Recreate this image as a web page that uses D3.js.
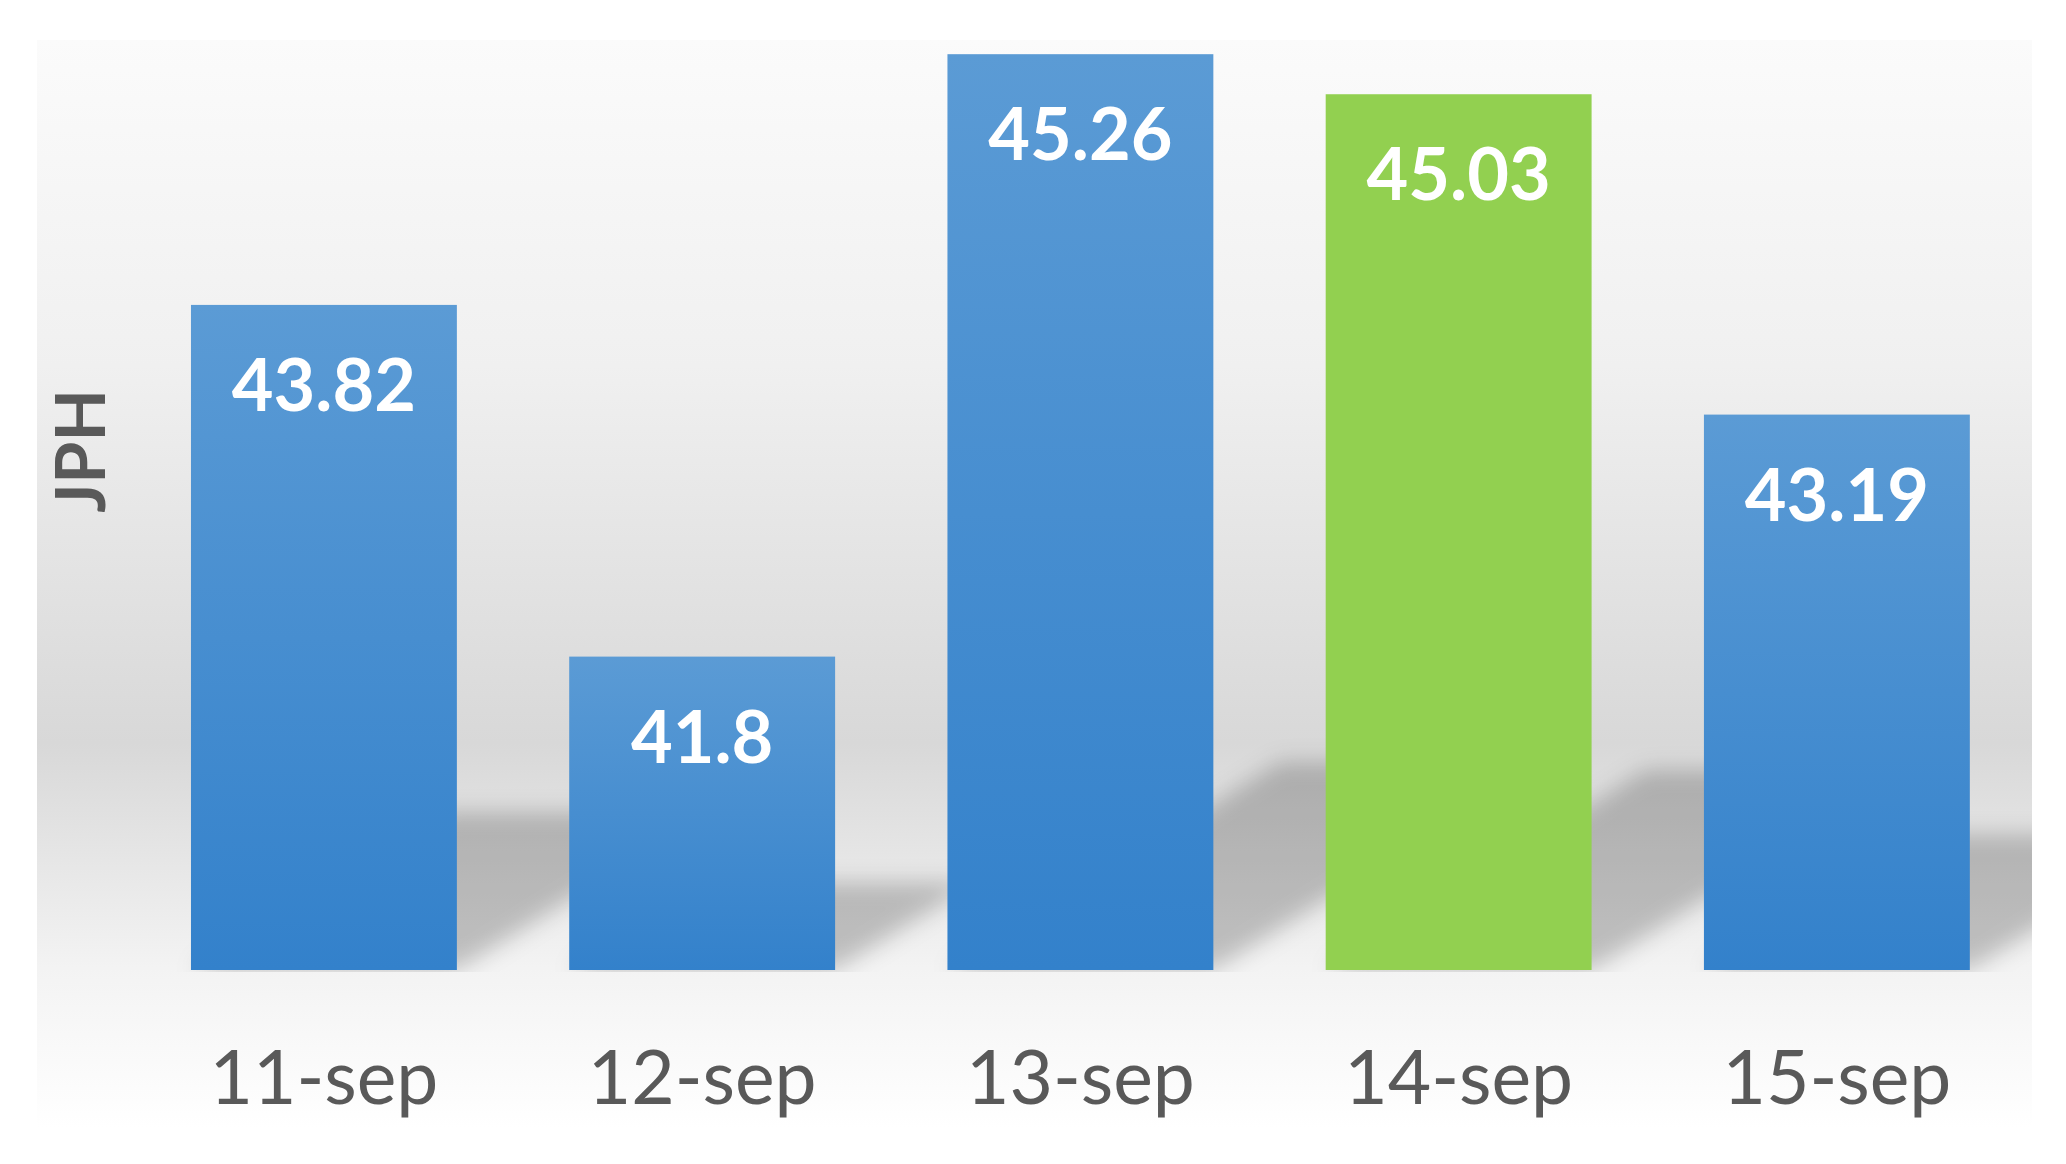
<!DOCTYPE html>
<html lang="en">
<head>
  <meta charset="UTF-8">
  <title>JPH</title>
  <style>
    body { margin: 0; background: #fff; }
    svg { display: block; }
  </style>
</head>
<body>
  <script src="https://d3js.org/d3.v7.min.js"></script>
  <script>
    'use strict';

    // data
    const days = ['11-sep', '12-sep', '13-sep', '14-sep', '15-sep'];
    const jph = [43.82, 41.8, 45.26, 45.03, 43.19];
    const highlightDay = '14-sep';
    const axisLabel = 'JPH';

    const width = 2066;
    const height = 1164;

    const panel = { x: 37, y: 40, w: 1995, h: 1088 };
    const baseY = 970;
    const topY = 42;

    const fontFamily = 'Lato, "Open Sans", sans-serif';

    const svg = d3.select('body')
      .append('svg')
      .attr('width', width)
      .attr('height', height);

    const defs = svg.append('defs');

    // panel background gradient
    const bg = defs.append('linearGradient')
      .attr('id', 'bg').attr('x1', 0).attr('y1', 0).attr('x2', 0).attr('y2', 1);
    [[0, '#fbfbfb'], [0.3, '#f0f0f0'], [0.646, '#d8d8d8'], [0.853, '#f3f3f3'], [1, '#ffffff']]
      .forEach(s => bg.append('stop').attr('offset', s[0]).attr('stop-color', s[1]));

    const blue = defs.append('linearGradient')
      .attr('id', 'blue').attr('x1', 0).attr('y1', 0).attr('x2', 0).attr('y2', 1);
    blue.append('stop').attr('offset', 0).attr('stop-color', '#5b9bd5');
    blue.append('stop').attr('offset', 1).attr('stop-color', '#3381cb');

    defs.append('filter')
      .attr('id', 'blur')
      .attr('x', -0.3).attr('y', -0.5).attr('width', 1.6).attr('height', 2)
      .append('feGaussianBlur').attr('stdDeviation', 11);

    defs.append('clipPath').attr('id', 'plotClip')
      .append('rect')
      .attr('x', panel.x).attr('y', topY)
      .attr('width', panel.w).attr('height', baseY + 2 - topY);

    svg.append('rect')
      .attr('x', panel.x).attr('y', panel.y)
      .attr('width', panel.w).attr('height', panel.h)
      .attr('fill', 'url(#bg)');

    const x = d3.scaleBand()
      .domain(days)
      .range([134.8, 2026])
      .paddingInner(0.297)
      .paddingOuter(0.1485);

    const y = d3.scaleLinear()
      .domain([40, 45.33])
      .range([baseY, topY]);

    const rows = days.map((d, i) => ({ day: d, value: jph[i] }));

    // cast shadows behind the bars
    const shadowPath = d => {
      const x0 = x(d.day), x1 = x0 + x.bandwidth();
      const h = baseY - y(d.value);
      const sh = 0.2 * h + 25;
      const dx = 1.6 * sh;
      return `M${x0},${baseY} L${x1},${baseY} L${x1 + dx},${baseY - sh} L${x0 + dx},${baseY - sh} Z`;
    };

    svg.append('g')
      .attr('clip-path', 'url(#plotClip)')
      .append('g')
      .attr('filter', 'url(#blur)')
      .selectAll('path')
      .data(rows)
      .join('path')
      .attr('d', shadowPath)
      .attr('fill', '#000')
      .attr('fill-opacity', 0.21);

    svg.append('g')
      .selectAll('rect')
      .data(rows)
      .join('rect')
      .attr('x', d => x(d.day))
      .attr('y', d => y(d.value))
      .attr('width', x.bandwidth())
      .attr('height', d => baseY - y(d.value))
      .attr('fill', d => d.day === highlightDay ? '#92d050' : 'url(#blue)');

    svg.append('g')
      .selectAll('text')
      .data(rows)
      .join('text')
      .attr('x', d => x(d.day) + x.bandwidth() / 2)
      .attr('y', d => y(d.value) + 106)
      .attr('text-anchor', 'middle')
      .attr('font-family', fontFamily)
      .attr('font-weight', 'bold')
      .attr('font-size', '72px')
      .attr('fill', '#ffffff')
      .text(d => String(d.value));

    const xAxis = d3.axisBottom(x).tickSize(0);

    const axisG = svg.append('g')
      .attr('transform', `translate(0, ${baseY})`)
      .call(xAxis);
    axisG.select('.domain').remove();
    axisG.selectAll('text')
      .attr('y', 134)
      .attr('dy', 0)
      .attr('font-family', fontFamily)
      .attr('font-size', '75px')
      .attr('fill', '#595959');

    svg.append('text')
      .attr('transform', 'translate(105, 451) rotate(-90)')
      .attr('text-anchor', 'middle')
      .attr('font-family', fontFamily)
      .attr('font-weight', 'bold')
      .attr('font-size', '68px')
      .attr('fill', '#595959')
      .text(axisLabel);
  </script>
</body>
</html>
